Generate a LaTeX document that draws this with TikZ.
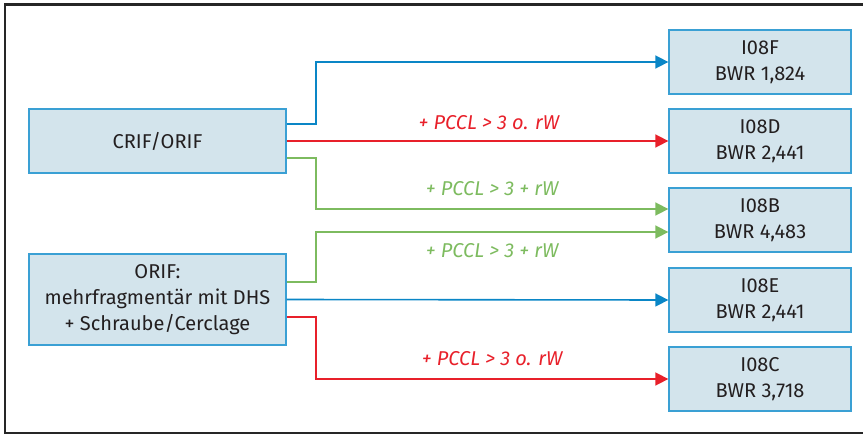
\documentclass[tikz,border=0pt]{standalone}
\usepackage{fontspec}
\setmainfont{Fira Sans}
\usetikzlibrary{arrows.meta, positioning, calc}
\definecolor{boxblue}{RGB}{58, 160, 212}
\definecolor{boxfill}{RGB}{211, 228, 236}
\definecolor{linkblue}{RGB}{10, 134, 198}
\definecolor{linkred}{RGB}{232, 32, 42}
\definecolor{linkgreen}{RGB}{125, 187, 95}
\definecolor{inktext}{RGB}{35, 31, 32}

\begin{document}
\begin{tikzpicture}[x=1pt, y=-1pt,
    every node/.style={font=\fontsize{20}{26}\selectfont, text=inktext},
    caseblock/.style={draw=boxblue, fill=boxfill, line width=1.3pt, align=center, inner sep=0pt},
    drgblock/.style={caseblock, minimum width=182pt, minimum height=64pt},
    link/.style={line width=1.6pt, -{Triangle[length=13pt, width=13pt]}},
    cond/.style={font=\fontsize{20}{26}\selectfont\itshape, inner sep=2pt}]
  \useasboundingbox (0,0) rectangle (863,436);
  \draw[line width=2.2pt, draw=black!85] (5,4.5) rectangle (880,433);

  % starting treatments
  \node[caseblock, minimum width=257pt, minimum height=64pt] (crif) at (157.5,141) {CRIF/ORIF};
  \node[caseblock, minimum width=257pt, minimum height=91pt] (multi) at (157.5,299.5)
    {ORIF:\\mehrfragmentär mit DHS\\+ Schraube/Cerclage};

  % resulting DRG groups
  \node[drgblock] (iF) at (760,62) {I08F\\BWR 1,824};
  \node[drgblock] (iD) at (760,141) {I08D\\BWR 2,441};
  \node[drgblock] (iB) at (760,220) {I08B\\BWR 4,483};
  \node[drgblock] (iE) at (760,300) {I08E\\BWR 2,441};
  \node[drgblock] (iC) at (760,379) {I08C\\BWR 3,718};

  \coordinate (bend) at (316,0);
  \coordinate (iBtop) at ([yshift=11pt]iB.west);
  \coordinate (iBlow) at ([yshift=-12pt]iB.west);

  % from CRIF/ORIF
  \draw[link, linkblue] ([yshift=17pt]crif.east) -| (bend |- iF.west) -- (iF.west);
  \draw[link, linkred] (crif.east) -- node[cond, text=linkred, pos=0.53, above=8pt] {+ PCCL > 3 o. rW} (iD.west);
  \draw[link, linkgreen] ([yshift=-17pt]crif.east) -| (bend |- iBtop) --
    node[cond, text=linkgreen, above=10pt] {+ PCCL > 3 + rW} (iBtop);

  % from ORIF mehrfragmentaer
  \draw[link, linkgreen] ([yshift=17.5pt]multi.east) -| (bend |- iBlow) --
    node[cond, text=linkgreen, below=9pt] {+ PCCL > 3 + rW} (iBlow);
  \draw[link, linkblue] (multi.east) -- (iE.west);
  \draw[link, linkred] ([yshift=-17.5pt]multi.east) -| (bend |- iC.west) --
    node[cond, text=linkred, above=10pt] {+ PCCL > 3 o. rW} (iC.west);
\end{tikzpicture}
\end{document}
